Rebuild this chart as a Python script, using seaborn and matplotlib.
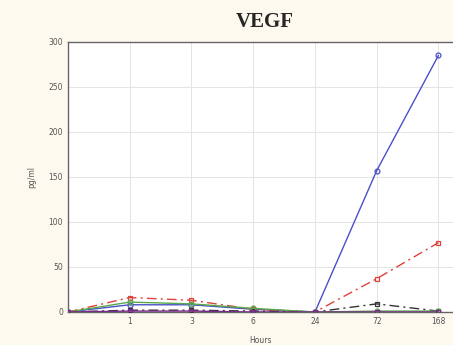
import numpy as np
import pandas as pd
import matplotlib
matplotlib.use("Agg")
import matplotlib.pyplot as plt
import seaborn as sns

# Sampling times (hours); the first point is the baseline at 0 h
hours = ["0", "1", "3", "6", "24", "72", "168"]
tick_labels = ["", "1", "3", "6", "24", "72", "168"]

# VEGF concentration (pg/ml) per group
blue_vals = [0, 8, 8, 3, 0, 157, 285]
red_vals = [0, 16, 13, 3, 0, 37, 77]
black_vals = [0, 2, 2, 1, 0, 9, 1]
green_vals = [0, 11, 9, 4, 0, 1, 1]
purple_vals = [0, 1, 1, 0, 0, 0, 0]

series = {
    "A": (blue_vals, "#4b4fc8", "-", "o"),
    "B": (red_vals, "#e0413a", (0, (7, 3, 1.5, 3)), "s"),
    "C": (black_vals, "#333333", (0, (7, 3, 1.5, 3)), "s"),
    "D": (green_vals, "#5aa84a", "-", "o"),
    "E": (purple_vals, "#7a2a8a", "-", "s"),
}

sns.set_style("white")
fig = plt.figure(figsize=(4.53, 3.45), dpi=100, facecolor="#fdf9ee")
ax = fig.add_axes([0.150, 0.0957, 0.852, 0.783])
ax.set_facecolor("white")

pos = np.arange(len(hours))
for name, (vals, color, ls, mk) in series.items():
    df = pd.DataFrame({"pos": pos, "val": vals})
    sns.lineplot(data=df, x="pos", y="val", ax=ax, color=color,
                 linestyle=ls, linewidth=1.0, marker=mk, markersize=3.5,
                 markerfacecolor="none", markeredgecolor=color,
                 markeredgewidth=0.9, zorder=3)

ax.set_xlim(0, 6.25)
ax.set_ylim(0, 300)
ax.set_xticks(pos)
ax.set_xticklabels(tick_labels)
ax.set_yticks(np.arange(0, 301, 50))
ax.grid(True, color="#e4e4e4", linewidth=0.7)
ax.set_axisbelow(True)

ax.tick_params(axis="both", labelsize=5.5, labelcolor="#555555",
               length=2, width=0.6, color="#777777", direction="in")
for side in ["left", "top", "bottom"]:
    ax.spines[side].set_color("#666666")
    ax.spines[side].set_linewidth(1.0)
ax.spines["right"].set_visible(False)

ax.set_xlabel("Hours", fontsize=5.5, color="#555555", labelpad=7)
ax.set_ylabel("pg/ml", fontsize=5.5, color="#555555", labelpad=9)

fig.text(0.585, 0.935, "VEGF", ha="center", va="center",
         fontsize=15, fontweight="bold", family="Liberation Serif")

fig.savefig("out.png", dpi=100, facecolor=fig.get_facecolor())
